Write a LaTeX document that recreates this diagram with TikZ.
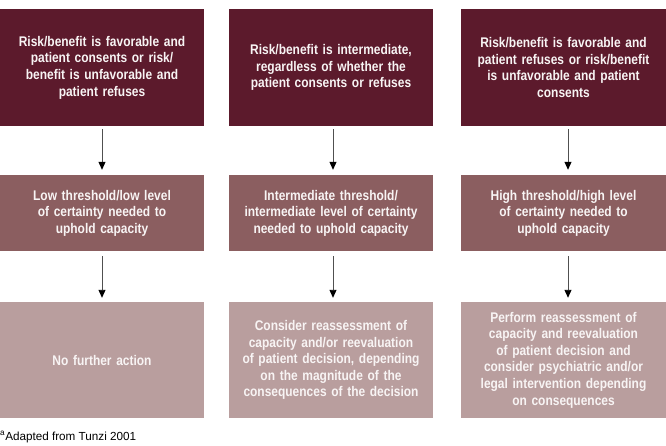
\documentclass[tikz,border=0pt]{standalone}
\usepackage{fontspec}
\setmainfont{Liberation Sans}
\newfontfamily\condfont{Liberation Sans}[FakeStretch=0.855]
\usetikzlibrary{arrows.meta}
\definecolor{rowA}{RGB}{92,26,44}
\definecolor{rowB}{RGB}{139,94,96}
\definecolor{rowC}{RGB}{185,158,158}
\definecolor{arrline}{RGB}{80,80,80}
\definecolor{boxtext}{RGB}{248,244,244}
\tikzset{
  cbox/.style={fill=#1, draw=none, inner sep=0pt, align=center, text=boxtext,
    font=\condfont\bfseries\fontsize{14}{16.6}\selectfont, text width=196pt},
  flowarrow/.style={draw=arrline, line width=0.9pt, -{Triangle[length=8pt,width=7pt,fill=black,color=black]}},
}
\begin{document}
\begin{tikzpicture}[x=1pt,y=-1pt]
\useasboundingbox (0,0) rectangle (666,446);
% row 1
\node[cbox=rowA, minimum width=204pt, minimum height=117pt] (a1) at (102,67.5)
  {Risk/benefit is favorable and\\patient consents or risk/\\benefit is unfavorable and\\patient refuses};
\node[cbox=rowA, minimum width=204pt, minimum height=117pt] (a2) at (331,67.5)
  {Risk/benefit is intermediate,\\regardless of whether the\\patient consents or refuses\\[2pt]};
\node[cbox=rowA, minimum width=205pt, minimum height=117pt] (a3) at (563.5,67.5)
  {Risk/benefit is favorable and\\patient refuses or risk/benefit\\is unfavorable and patient\\consents};
% row 2
\node[cbox=rowB, minimum width=204pt, minimum height=76pt] (b1) at (102,213)
  {Low threshold/low level\\of certainty needed to\\uphold capacity};
\node[cbox=rowB, minimum width=204pt, minimum height=76pt] (b2) at (331,213)
  {Intermediate threshold/\\intermediate level of certainty\\needed to uphold capacity};
\node[cbox=rowB, minimum width=205pt, minimum height=76pt] (b3) at (563.5,213)
  {High threshold/high level\\of certainty needed to\\uphold capacity};
% row 3
\node[cbox=rowC, minimum width=204pt, minimum height=116pt] (c1) at (102,360)
  {No further action};
\node[cbox=rowC, minimum width=204pt, minimum height=116pt] (c2) at (331,360)
  {Consider reassessment of\\capacity and/or reevaluation\\of patient decision, depending\\on the magnitude of the\\consequences of the decision};
\node[cbox=rowC, minimum width=205pt, minimum height=116pt] (c3) at (563.5,360)
  {Perform reassessment of\\capacity and reevaluation\\of patient decision and\\consider psychiatric and/or\\legal intervention depending\\on consequences};
% arrows
\draw[flowarrow, shorten <=3pt, shorten >=5pt] (a1.south) -- (b1.north);
\draw[flowarrow, shorten <=3pt, shorten >=5pt] ([xshift=2pt]a2.south) -- ([xshift=2pt]b2.north);
\draw[flowarrow, shorten <=3pt, shorten >=5pt] ([xshift=4.5pt]a3.south) -- ([xshift=4.5pt]b3.north);
\draw[flowarrow, shorten <=5pt, shorten >=4pt] (b1.south) -- (c1.north);
\draw[flowarrow, shorten <=5pt, shorten >=4pt] ([xshift=2pt]b2.south) -- ([xshift=2pt]c2.north);
\draw[flowarrow, shorten <=5pt, shorten >=4pt] ([xshift=4.5pt]b3.south) -- ([xshift=4.5pt]c3.north);
% footnote
\node[anchor=west, inner sep=0pt, font=\fontsize{11.7}{13}\selectfont] (fn) at (0,437)
  {\textsuperscript{a}Adapted from Tunzi 2001};
\end{tikzpicture}
\end{document}
